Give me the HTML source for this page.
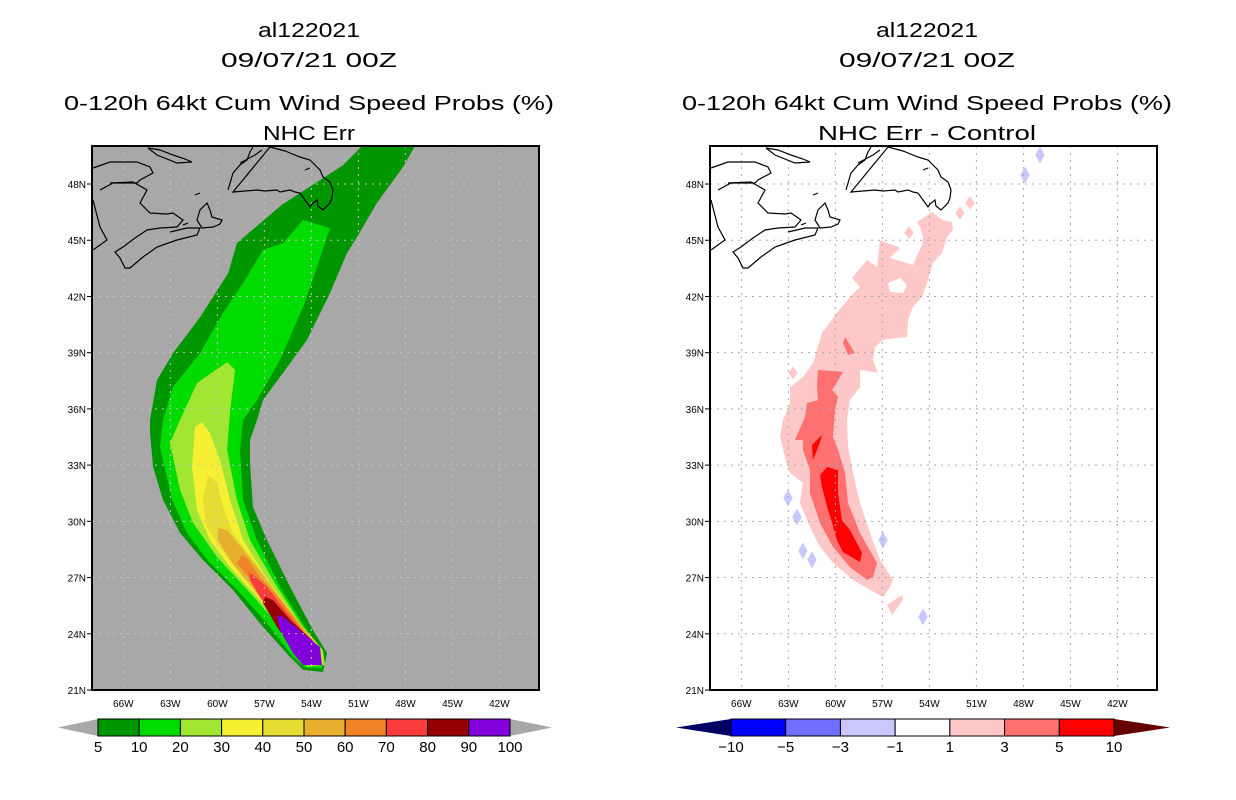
<!DOCTYPE html>
<html><head><meta charset="utf-8"><style>
html,body{margin:0;padding:0;background:#fff;}
svg{display:block;font-family:"Liberation Sans",sans-serif;}
</style></head><body>
<svg id="chart" width="1236" height="800" viewBox="0 0 1236 800" xmlns="http://www.w3.org/2000/svg">
<defs>
<clipPath id="clipL"><rect x="92" y="146" width="447" height="544"/></clipPath>
<clipPath id="clipR"><rect x="710" y="146" width="447" height="544"/></clipPath>
</defs>
<g font-size="20" text-anchor="middle" fill="#000">
<text x="309" y="37" textLength="102" lengthAdjust="spacingAndGlyphs">al122021</text>
<text x="309" y="67" textLength="176" lengthAdjust="spacingAndGlyphs">09/07/21 00Z</text>
<text x="309" y="110" textLength="490" lengthAdjust="spacingAndGlyphs">0-120h 64kt Cum Wind Speed Probs (%)</text>
<text x="309" y="140" textLength="92" lengthAdjust="spacingAndGlyphs">NHC Err</text>
</g>
<g font-size="20" text-anchor="middle" fill="#000">
<text x="927" y="37" textLength="102" lengthAdjust="spacingAndGlyphs">al122021</text>
<text x="927" y="67" textLength="176" lengthAdjust="spacingAndGlyphs">09/07/21 00Z</text>
<text x="927" y="110" textLength="490" lengthAdjust="spacingAndGlyphs">0-120h 64kt Cum Wind Speed Probs (%)</text>
<text x="927" y="140" textLength="218" lengthAdjust="spacingAndGlyphs">NHC Err - Control</text>
</g>
<g id="left"></g>
<g id="right"></g>
<g id="cbars"></g>
</svg>
<script>
const NS="http://www.w3.org/2000/svg";
// ---- data ----
const lonTicks=[-66,-63,-60,-57,-54,-51,-48,-45,-42];
const latTicks=[21,24,27,30,33,36,39,42,45,48];
const probLevels=[5,10,20,30,40,50,60,70,80,90,100];
const probColors=["#009600","#00dc00","#a0e632","#f5f032","#e6dc32","#e6af2d","#f08228","#fa3c3c","#960000","#8200dc"];
const diffLevels=[-10,-5,-3,-1,1,3,5,10];
const diffColors=["#0000ff","#7070ff","#c8c8ff","#ffffff","#ffc8c8","#ff7070","#ff0000"];
const diffLowTri="#000064", diffHighTri="#640000";
// left panel probability contours [lon,lat]
const prob5=[[-50.45,50.3],[-51.98,49.0],[-55.87,46.9],[-58.75,44.85],[-59.3,43.25],[-61.1,40.9],[-62.83,38.98],[-63.85,37.54],[-64.3,35.41],[-64.3,34.71],[-64.1,32.9],[-63.47,31.14],[-62.38,29.38],[-60.92,27.94],[-59.0,26.34],[-57.09,24.36],[-55.36,22.76],[-54.53,22.07],[-53.26,21.96],[-53.0,22.97],[-53.9,24.2],[-55.36,26.5],[-56.83,29.0],[-57.73,30.77],[-57.92,33.11],[-57.92,34.34],[-57.47,35.41],[-57.09,36.47],[-55.81,37.92],[-54.28,39.68],[-52.81,42.18],[-51.73,44.32],[-51.09,45.17],[-49.81,46.99],[-48.15,48.91],[-47.2,50.3]];
const prob10=[[-54.53,46.08],[-55.81,44.85],[-57.09,44.48],[-58.36,42.72],[-59.64,41.12],[-61.1,38.98],[-62.83,37.17],[-63.47,35.41],[-63.66,33.97],[-62.89,31.14],[-61.94,29.38],[-60.66,27.94],[-58.56,26.18],[-56.64,24.36],[-55.17,22.76],[-54.4,22.2],[-53.32,22.17],[-53.26,22.97],[-54.28,24.2],[-56.0,26.5],[-57.47,29.0],[-58.36,31.14],[-58.56,33.81],[-58.36,35.41],[-57.47,36.47],[-56.0,38.61],[-54.53,41.44],[-53.64,43.57],[-52.81,45.65]];
const prob20=[[-59.38,38.5],[-61.3,37.38],[-62.38,35.41],[-63.02,34.18],[-62.38,31.67],[-61.55,29.91],[-60.02,28.1],[-57.92,26.18],[-56.19,24.58],[-54.73,22.76],[-54.28,22.23],[-53.13,22.33],[-53.26,23.13],[-54.53,24.36],[-56.19,26.5],[-57.92,29.0],[-58.75,31.14],[-59.38,33.81],[-59.19,35.94],[-58.87,38.08]];
const prob30=[[-60.98,35.3],[-61.43,35.03],[-61.62,32.9],[-61.3,30.6],[-60.47,29.0],[-59.19,27.56],[-57.28,25.8],[-55.56,24.04],[-54.53,22.6],[-53.26,22.44],[-53.45,23.29],[-54.92,24.74],[-56.64,26.71],[-58.36,29.0],[-59.19,31.14],[-59.83,33.27],[-60.47,34.71]];
const prob40=[[-60.6,32.47],[-60.92,31.14],[-60.66,29.7],[-60.02,28.84],[-58.75,27.4],[-56.83,25.43],[-55.36,23.83],[-54.53,22.71],[-53.32,22.49],[-53.64,23.51],[-55.36,25.11],[-57.09,27.24],[-59.0,29.38],[-59.64,30.77],[-60.02,32.05]];
const prob50=[[-59.96,29.64],[-59.96,29.0],[-59.19,27.94],[-57.47,26.18],[-55.81,24.2],[-54.53,22.76],[-53.45,22.6],[-53.9,23.67],[-55.56,25.43],[-57.47,27.56],[-59.0,29.16],[-59.38,29.54]];
const prob60=[[-58.43,28.2],[-58.75,27.78],[-57.47,26.5],[-56.0,24.74],[-54.73,22.97],[-53.58,22.71],[-54.09,23.67],[-55.81,25.64],[-57.47,27.24],[-58.11,28.04]];
const prob70=[[-57.98,27.24],[-57.92,26.87],[-57.28,25.96],[-56.0,24.36],[-54.73,22.76],[-53.45,22.76],[-54.09,23.67],[-55.56,25.11],[-56.83,26.5],[-57.73,27.14]];
const prob80=[[-56.96,25.96],[-57.09,25.64],[-56.19,24.36],[-54.73,22.6],[-53.45,22.76],[-53.96,23.67],[-55.36,24.74],[-56.45,25.8]];
const prob90=[[-56.19,25.0],[-55.81,24.9],[-54.53,24.04],[-53.45,23.29],[-53.32,22.33],[-54.53,22.33],[-55.17,22.97],[-56.0,24.2]];
// right panel difference contours
const diffPink=[[-54.79,45.97],[-53.83,46.51],[-53.19,46.08],[-52.56,45.97],[-52.49,45.55],[-52.88,45.17],[-53.19,44.32],[-53.77,43.79],[-54.15,42.72],[-54.47,41.97],[-55.05,41.44],[-55.36,40.74],[-55.43,39.84],[-56.07,39.78],[-56.96,39.68],[-57.47,39.3],[-57.6,38.61],[-57.28,37.92],[-58.43,38.08],[-58.43,37.17],[-59.07,36.47],[-59.26,35.41],[-59.19,33.97],[-58.87,32.58],[-58.43,30.98],[-57.79,29.38],[-57.15,27.94],[-56.32,26.87],[-56.51,26.5],[-56.96,25.96],[-57.79,26.34],[-58.87,26.87],[-60.15,27.78],[-60.98,28.63],[-61.62,29.7],[-62.26,30.98],[-62.07,32.05],[-62.89,32.58],[-63.21,33.43],[-63.53,34.5],[-63.34,35.41],[-62.89,36.31],[-62.89,37.17],[-62.07,37.7],[-61.43,38.45],[-60.85,40.05],[-59.9,41.12],[-59.07,41.97],[-58.43,42.5],[-58.94,42.98],[-57.98,43.95],[-57.34,43.57],[-57.15,45.01],[-55.87,44.59],[-56.51,44.05],[-55.05,43.68],[-54.47,44.75],[-54.41,45.17],[-54.6,45.71]];
const diffHole=[[-56.64,42.72],[-55.87,42.98],[-55.43,42.61],[-55.68,42.18],[-56.51,42.24]];
const diffPinkSmall=[[-56.7,25.54],[-55.75,26.07],[-55.68,25.8],[-56.39,25.0]];
const pinkDots=[[-62.7,37.92],[-52.05,46.45],[-51.4,46.99],[-55.3,45.4]];
const diffMed=[[-61.11,38.08],[-59.51,37.97],[-60.21,37.01],[-59.83,36.64],[-60.02,35.94],[-60.15,34.5],[-59.83,33.81],[-59.38,32.58],[-59.19,30.98],[-58.43,29.38],[-57.34,27.78],[-57.6,27.03],[-57.98,26.87],[-59.07,27.56],[-60.15,28.63],[-60.98,29.91],[-61.62,31.51],[-61.62,32.74],[-62.07,33.81],[-62.07,34.34],[-62.58,34.34],[-61.94,35.57],[-61.81,36.31],[-61.11,36.47],[-61.17,37.17]];
const diffMedSmall=[[-59.38,39.84],[-58.75,38.98],[-59.19,38.88],[-59.51,39.52]];
const diffRed=[[-60.98,32.47],[-60.53,32.9],[-59.83,32.74],[-59.83,31.51],[-59.58,30.07],[-59.07,29.54],[-58.3,28.31],[-58.43,27.83],[-59.51,28.36],[-59.9,29.0],[-60.21,29.91],[-60.53,30.77],[-60.85,31.83]];
const diffRedSmall=[[-61.49,34.07],[-60.85,34.61],[-60.98,34.23],[-61.43,33.27]];
const blueDots=[[-63.02,31.25],[-62.45,30.23],[-56.96,29.0],[-61.49,27.94],[-62.07,28.42],[-54.41,24.9],[-47.9,48.48],[-46.94,49.55]];

// ---- axes ----
const LON0=-68, PXD=15.67, LATBOT=21, PYD=18.74, Y0=146, H=544, W=447;
function mk(tag,attrs,parent){const e=document.createElementNS(NS,tag);for(const k in attrs)e.setAttribute(k,attrs[k]);parent.appendChild(e);return e;}
function panel(gid,x0,bg,gridCol,clipId){
  const g=document.getElementById(gid);
  const xs=lon=>x0+(lon-LON0)*PXD;
  const ys=lat=>Y0+H-(lat-LATBOT)*PYD;
  const bgR=mk('rect',{x:x0,y:Y0,width:W,height:H,fill:bg},g);
  
  
  const fills=mk('g',{'clip-path':'url(#'+clipId+')'},g);
  
  
  const poly=(pts,col,name)=>{const p=mk('polygon',{points:pts.map(q=>xs(q[0]).toFixed(1)+','+ys(q[1]).toFixed(1)).join(' '),fill:col},fills);
    
    return p;};
  const dot=(c,col,name,dx,dy)=>{const pts=[[c[0],c[1]+dy],[c[0]+dx,c[1]],[c[0],c[1]-dy],[c[0]-dx,c[1]]];return poly(pts,col,name);};
  return {g,xs,ys,poly,dot,fills};
}
function decorate(P,x0,gridCol,coastCol){
  const {g,xs,ys}=P;
  const grid=mk('g',{stroke:gridCol,'stroke-width':1,'stroke-dasharray':'2,5',fill:'none'},g);
  
  
  lonTicks.forEach(l=>{const e=mk('line',{x1:xs(l),x2:xs(l),y1:Y0,y2:Y0+H},grid);
    
    });
  latTicks.slice(1).forEach(l=>{const e=mk('line',{x1:x0,x2:x0+W,y1:ys(l),y2:ys(l)},grid);
    
    });
  // coastline (map background geometry, pixel offsets relative to panel)
  const coast=mk('g',{transform:'translate('+(x0-92)+',0)',stroke:'#000','stroke-width':1.2,fill:'none','clip-path':'url(#clipL)'},g);
  
  
  const paths=["M93,168 L110,162 L137,162 L150,167 L153,173 L140,180 L137,183 L113,183 L100,190",
   "M148,148 L160,150 L173,155 L185,159 L192,162 L177,163 L157,155 Z",
   "M93,200 L100,227 L107,240 L93,250",
   "M110,183 L133,182 L147,190 L140,203 L150,213 L167,214 L173,213 L183,220 L177,227 L160,228 L147,230 L135,238 L123,247 L115,252 L120,258 L125,268 L130,268 L143,257 L157,247 L177,240 L197,235 L200,228 L187,228 L170,232",
   "M197,220 L200,210 L207,203 L210,210 L212,217 L222,220 L220,224 L213,227 L202,228 Z",
   "M228,190 L233,173 L240,165 L247,160 L250,152 L253,147 M270,147 L285,151 L290,153 L300,157 L310,160 L315,165 L320,170 L323,177 L330,182 L333,190 L332,198 L330,203 L323,210 L318,206 L317,200 L312,204 L310,207 L305,200 L300,193 L295,192 L290,190 L280,192 L277,190 L265,191 L257,190 L245,191 L233,192 Z",
   "M240,163 L255,155 L262,150","M195,195 L200,193","M305,170 L310,168","M183,225 L188,223"];
  paths.forEach(d=>{const e=mk('path',{d},coast);
    
    });
  const fr=mk('rect',{x:x0,y:Y0,width:W,height:H,fill:'none',stroke:'#000','stroke-width':2},g);
  
  
  const lab=mk('g',{'font-size':10,fill:'#000'},g);
  
  
  lonTicks.forEach(l=>{const t=mk('text',{x:xs(l),y:707,'text-anchor':'middle'},lab);t.textContent=(-l)+'W';
    
    });
  latTicks.forEach(l=>{const t=mk('text',{x:x0-6,y:ys(l)+4,'text-anchor':'end'},lab);t.textContent=l+'N';
    
    
    const tk=mk('line',{x1:x0-5,x2:x0,y1:ys(l),y2:ys(l),stroke:'#000'},lab);
    
    });
}
// left panel
const L=panel('left',92,'#a8a8a8','#c8c8c8','clipL');
[prob5,prob10,prob20,prob30,prob40,prob50,prob60,prob70,prob80,prob90].forEach((pts,i)=>L.poly(pts,probColors[i],'prob-contour-'+probLevels[i]));
decorate(L,92,'#c4c4c4');
// right panel
const R=panel('right',710,'#ffffff','#a0a0a0','clipR');
R.poly(diffPink,'#ffc8c8','diff-contour-1-3');
R.poly(diffHole,'#ffffff','diff-hole');
R.poly(diffPinkSmall,'#ffc8c8','diff-contour-1-3-small');
pinkDots.forEach(c=>R.dot(c,'#ffc8c8','diff-pink-blob',0.3,0.35));
R.poly(diffMed,'#ff7070','diff-contour-3-5');
R.poly(diffMedSmall,'#ff7070','diff-contour-3-5-small');
R.poly(diffRed,'#ff0000','diff-contour-5-10');
R.poly(diffRedSmall,'#ff0000','diff-contour-5-10-small');
blueDots.forEach(c=>R.dot(c,'#c8c8ff','diff-blue-blob',0.3,0.45));
decorate(R,710,'#a8a8a8');
// colorbars
function cbar(x0,x1,tipL,tipR,levels,colors,triL,triR,name){
  const g=mk('g',{},document.getElementById('cbars'));
  
  
  const yT=719,yB=736,yM=727.5,n=colors.length,w=(x1-x0)/n;
  const tl=mk('polygon',{points:`${tipL},${yM} ${x0},${yT} ${x0},${yB}`,fill:triL,stroke:'#000','stroke-width':0},g);
  
  
  const tr=mk('polygon',{points:`${tipR},${yM} ${x1},${yT} ${x1},${yB}`,fill:triR},g);
  
  
  colors.forEach((c,i)=>{const r=mk('rect',{x:x0+i*w,y:yT,width:w,height:yB-yT,fill:c,stroke:'#000','stroke-width':1},g);
    
    });
  levels.forEach((v,i)=>{const t=mk('text',{x:x0+i*w,y:752,'text-anchor':'middle','font-size':15},g);t.textContent=String(v).replace('-','\u2212');
    
    });
}
cbar(98,510,58,552,probLevels,probColors,'#a8a8a8','#a8a8a8','prob-colorbar');
cbar(731,1114,676,1170,diffLevels,diffColors,diffLowTri,diffHighTri,'diff-colorbar');
</script>
</body></html>
